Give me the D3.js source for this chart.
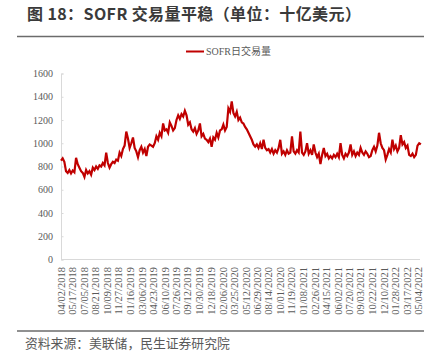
<!DOCTYPE html>
<html>
<head>
<meta charset="utf-8">
<script src="https://cdn.jsdelivr.net/npm/d3@7"></script>
<style>
  body { margin: 0; background: #fff; }
  svg { display: block; }
</style>
</head>
<body>
<div id="chart"></div>
<script>
// weekly readings of SOFR daily volume (bn USD), first week 04/02/2018
const startDate = "2018-04-02";
const volumes = [
  850, 870, 840, 760, 745, 770, 740, 765, 750, 875, 820, 790, 760, 745, 710, 770,
  740, 760, 730, 790, 770, 800, 780, 810, 800, 830, 810, 920, 830, 790, 820, 840,
  830, 860, 850, 920, 890, 950, 980, 1100, 1040, 960, 1000, 1050, 960, 930, 880, 940,
  970, 920, 950, 890, 970, 990, 980, 970, 1000, 1060, 1030, 1090, 1060, 1170, 1110, 1120,
  1090, 1180, 1150, 1110, 1130, 1200, 1240, 1210, 1250, 1230, 1280, 1240, 1160, 1180, 1120, 1100,
  1130, 1080, 1110, 1170, 1060, 1080, 1040, 1030, 1010, 1040, 970, 1050, 1030, 1090, 1050, 1110,
  1120, 1160, 1110, 1140, 1300, 1270, 1360, 1260, 1230, 1270, 1200, 1220, 1180, 1170, 1140, 1120,
  1090, 1060, 1030, 990, 970, 990, 960, 1000, 950, 1030, 960, 940, 950, 920, 950, 910,
  940, 920, 960, 1030, 910, 930, 900, 940, 910, 920, 1060, 930, 910, 940, 920, 1100,
  920, 900, 930, 1000, 910, 940, 900, 990, 920, 880, 910, 820, 900, 960, 890, 910,
  870, 890, 870, 900, 880, 910, 880, 1000, 900, 870, 910, 890, 920, 990, 900, 930,
  890, 920, 900, 960, 920, 900, 930, 910, 880, 890, 940, 970, 930, 980, 1090, 1000,
  960, 940, 860, 900, 950, 920, 1030, 950, 980, 930, 960, 1070, 990, 1010, 960, 980,
  900, 890, 910, 880, 900, 980, 1000, 990
];
const tickDates = [
  "04/02/2018", "05/17/2018", "07/05/2018", "08/21/2018", "10/09/2018", "11/27/2018",
  "01/16/2019", "03/06/2019", "04/23/2019", "06/10/2019", "07/26/2019", "09/12/2019",
  "10/30/2019", "12/18/2019", "02/06/2020", "03/25/2020", "05/12/2020", "06/29/2020",
  "08/14/2020", "10/01/2020", "11/19/2020", "01/08/2021", "02/26/2021", "04/15/2021",
  "06/02/2021", "07/20/2021", "09/03/2021", "10/22/2021", "12/10/2021", "01/28/2022",
  "03/17/2022", "05/04/2022"
];
const yTicks = [0, 200, 400, 600, 800, 1000, 1200, 1400, 1600];
const seriesName = "SOFR日交易量";

const W = 441, H = 361;
const parseIso = d3.timeParse("%Y-%m-%d");
const parseUs = d3.timeParse("%m/%d/%Y");
const first = parseIso(startDate);
const data = volumes.map((v, i) => ({ date: d3.timeDay.offset(first, i * 7), value: v }));
const ticks = tickDates.map(parseUs);

const svg = d3.select("#chart").append("svg")
  .attr("width", W).attr("height", H);

// title block
svg.append("text")
  .attr("x", 27).attr("y", 20)
  .attr("font-family", "'Noto Sans CJK SC', 'Noto Sans', sans-serif")
  .attr("font-size", 16).attr("font-weight", "bold")
  .attr("letter-spacing", 0.4)
  .attr("fill", "#3a3a3a")
  .text("图 18：SOFR 交易量平稳（单位：十亿美元）");
svg.append("line")
  .attr("x1", 17).attr("x2", 424).attr("y1", 36.5).attr("y2", 36.5)
  .attr("stroke", "#6b6b6b").attr("stroke-width", 1.5);

const x = d3.scaleTime()
  .domain([ticks[0], ticks[ticks.length - 1]])
  .range([61, 418]);
const y = d3.scaleLinear()
  .domain([0, 1600])
  .range([259.5, 73.5]);

// y axis
const yAxis = svg.append("g")
  .attr("transform", "translate(61,0)")
  .call(d3.axisRight(y).tickValues(yTicks).tickSize(2.5).tickFormat(d3.format("d")));
yAxis.select(".domain").attr("stroke", "#d9d9d9");
yAxis.selectAll(".tick line").attr("stroke", "#d9d9d9");
yAxis.selectAll(".tick text")
  .attr("x", -8).attr("text-anchor", "end")
  .attr("font-family", "'Liberation Serif', 'Times New Roman', serif")
  .attr("font-size", 10).attr("fill", "#595959");

// x axis
const xAxis = svg.append("g")
  .attr("transform", "translate(0,259.5)")
  .call(d3.axisBottom(x).tickValues(ticks).tickSize(0).tickFormat(d3.timeFormat("%m/%d/%Y")));
xAxis.select(".domain").attr("d", "M61,0H420").attr("stroke", "#d9d9d9");
xAxis.selectAll(".tick text")
  .attr("transform", "rotate(-90)")
  .attr("x", -7.5).attr("y", 0).attr("dy", "0.35em")
  .attr("text-anchor", "end")
  .attr("font-family", "'Liberation Serif', 'Times New Roman', serif")
  .attr("font-size", 10.5).attr("fill", "#595959");

// series
const line = d3.line()
  .x(d => x(d.date))
  .y(d => y(d.value));
svg.append("path")
  .datum(data)
  .attr("d", line)
  .attr("fill", "none")
  .attr("stroke", "#c00000")
  .attr("stroke-width", 2.2)
  .attr("stroke-linejoin", "miter");

// legend
svg.append("line")
  .attr("x1", 186).attr("x2", 204).attr("y1", 51.5).attr("y2", 51.5)
  .attr("stroke", "#c00000").attr("stroke-width", 2);
svg.append("text")
  .attr("x", 206).attr("y", 55)
  .attr("font-family", "'Liberation Serif', 'Noto Sans CJK SC', serif")
  .attr("font-size", 10).attr("fill", "#595959")
  .text(seriesName);

// footer
svg.append("line")
  .attr("x1", 17).attr("x2", 424).attr("y1", 331).attr("y2", 331)
  .attr("stroke", "#6b6b6b").attr("stroke-width", 1.5);
svg.append("text")
  .attr("x", 25).attr("y", 348)
  .attr("font-family", "'Noto Sans CJK SC', sans-serif")
  .attr("font-size", 12.8).attr("fill", "#595959")
  .text("资料来源：美联储，民生证券研究院");
</script>
</body>
</html>
